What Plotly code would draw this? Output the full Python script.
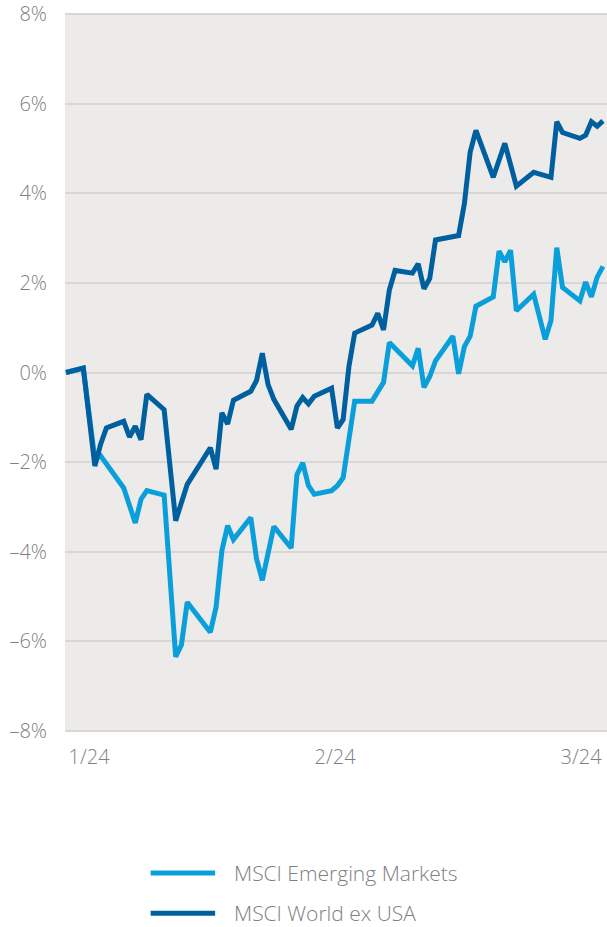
import plotly.graph_objects as go

# ---- data ----
series_names = ["MSCI Emerging Markets", "MSCI World ex USA"]
series_colors = ["#0A9FDA", "#00609F"]

em_day = [0, 3, 5, 6, 10, 12, 13, 14, 17, 19, 20, 21, 25, 26, 27, 28, 29, 32, 33, 34,
          36, 39, 40, 41, 42, 43, 46, 47, 48, 49, 50, 53, 54, 55, 56, 57, 60, 61, 62, 63,
          64, 67, 68, 69, 70, 71, 74, 75, 76, 77, 78, 81, 83, 84, 85, 86, 89, 90, 91, 92, 93]
em_val = [0.00, 0.10, -1.94, -1.86, -2.58, -3.36, -2.83, -2.64, -2.74, -6.35, -6.08, -5.13,
          -5.80, -5.24, -3.98, -3.42, -3.73, -3.24, -4.16, -4.64, -3.44, -3.92, -2.28, -2.02,
          -2.53, -2.72, -2.64, -2.53, -2.35, -1.42, -0.64, -0.64, -0.42, -0.22, 0.67, 0.54,
          0.15, 0.54, -0.33, -0.09, 0.26, 0.81, -0.03, 0.58, 0.81, 1.48, 1.69, 2.71, 2.47,
          2.73, 1.38, 1.75, 0.74, 1.16, 2.79, 1.90, 1.60, 2.02, 1.69, 2.13, 2.37]

wx_day = [0, 3, 5, 6, 7, 10, 11, 12, 13, 14, 17, 19, 21, 25, 26, 27, 28, 29, 32, 33,
          34, 35, 36, 39, 40, 41, 42, 43, 46, 47, 48, 49, 50, 53, 54, 55, 56, 57, 60, 61,
          62, 63, 64, 68, 69, 70, 71, 74, 76, 77, 78, 81, 84, 85, 86, 89, 90, 91, 92, 93]
wx_val = [0.00, 0.10, -2.09, -1.60, -1.24, -1.09, -1.44, -1.20, -1.50, -0.49, -0.83, -3.31,
          -2.50, -1.68, -2.16, -0.90, -1.15, -0.62, -0.42, -0.18, 0.43, -0.27, -0.60, -1.27,
          -0.75, -0.56, -0.70, -0.53, -0.35, -1.24, -1.05, 0.13, 0.88, 1.06, 1.32, 0.95,
          1.84, 2.28, 2.22, 2.43, 1.87, 2.10, 2.96, 3.06, 3.77, 4.92, 5.41, 4.36, 5.12,
          4.58, 4.16, 4.47, 4.36, 5.60, 5.36, 5.23, 5.30, 5.60, 5.50, 5.62]

x_tick_pos = [4.0, 46.6, 89.2]
x_tick_text = ["1/24", "2/24", "3/24"]
y_tick_vals = [-8, -6, -4, -2, 0, 2, 4, 6, 8]
y_tick_text = ["–8%", "–6%", "–4%", "–2%", "0%", "2%", "4%", "6%", "8%"]

FONT = "Open Sans"
TEXT_COLOR = "#7F7F7F"

fig = go.Figure()
fig.add_trace(go.Scatter(x=em_day, y=em_val, mode="lines", name=series_names[0],
                         line=dict(color=series_colors[0], width=5), showlegend=False))
fig.add_trace(go.Scatter(x=wx_day, y=wx_val, mode="lines", name=series_names[1],
                         line=dict(color=series_colors[1], width=5), showlegend=False))

# custom legend (long line swatches like the reference)
legend_y = [-0.196, -0.252]
for name, color, ly in zip(series_names, series_colors, legend_y):
    fig.add_shape(type="line", xref="paper", yref="paper", x0=0.158, x1=0.277, y0=ly, y1=ly,
                  line=dict(color=color, width=5))
    fig.add_annotation(xref="paper", yref="paper", x=0.308, y=ly, text=name, showarrow=False,
                       xanchor="left", yanchor="middle",
                       font=dict(family=FONT, size=21, color=TEXT_COLOR, weight=300))

fig.update_layout(
    width=607, height=927,
    margin=dict(l=65, r=0, t=13, b=195),
    paper_bgcolor="white",
    plot_bgcolor="#ECEBEA",
    font=dict(family=FONT, size=20, color=TEXT_COLOR, weight=300),
    showlegend=False,
)
fig.update_xaxes(range=[-0.17, 93.7], showgrid=False, zeroline=False, showline=False,
                 tickvals=x_tick_pos, ticktext=x_tick_text, ticks="", ticklabelstandoff=11,
                 tickfont=dict(family=FONT, size=20, color=TEXT_COLOR, weight=300))
fig.update_yaxes(range=[-8.03, 8.03], showgrid=True, gridcolor="#D8D7D5", gridwidth=1.5,
                 zeroline=False, showline=False, tickvals=y_tick_vals, ticktext=y_tick_text,
                 ticks="", ticklabelstandoff=17, ticklabeloverflow="allow",
                 tickfont=dict(family=FONT, size=20, color=TEXT_COLOR, weight=300))

fig.write_html("out.html", config={"displayModeBar": False},
               post_script="document.body.style.margin='0px';document.body.style.overflow='hidden';")
